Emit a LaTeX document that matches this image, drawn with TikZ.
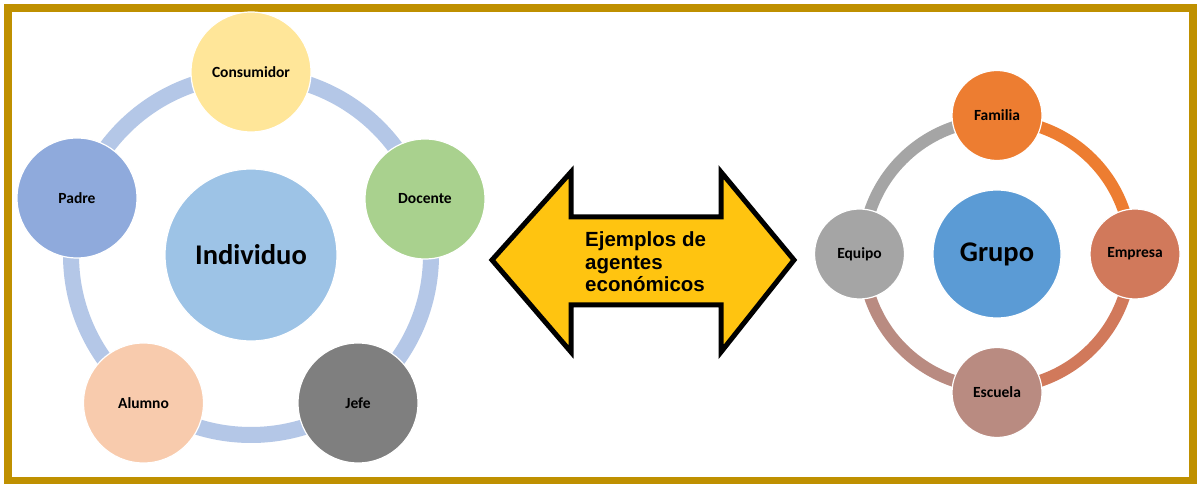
\documentclass[tikz,border=0pt]{standalone}
\usepackage{fontspec}
\setmainfont{Carlito}
\newfontfamily\arrowfont{Liberation Sans}
\definecolor{borderc}{HTML}{BF9000}
\definecolor{ringblue}{HTML}{B4C7E7}
\definecolor{indc}{HTML}{9DC3E6}
\definecolor{consc}{HTML}{FFE699}
\definecolor{docc}{HTML}{A9D18E}
\definecolor{jefec}{HTML}{7F7F7F}
\definecolor{alumc}{HTML}{F8CBAD}
\definecolor{padrec}{HTML}{8FAADC}
\definecolor{famc}{HTML}{ED7D31}
\definecolor{empc}{HTML}{D1795B}
\definecolor{escc}{HTML}{B98B81}
\definecolor{equc}{HTML}{A5A5A5}
\definecolor{grpc}{HTML}{5B9BD5}
\definecolor{arrowc}{HTML}{FFC410}
\tikzset{
  bubble/.style={circle, draw=white, line width=1.2pt, inner sep=0pt,
    font=\fontsize{15.5}{18}\selectfont\bfseries, text=black},
  bigbubble/.style={circle, draw=white, line width=1.2pt, inner sep=0pt,
    font=\fontsize{28.5}{32}\selectfont\bfseries, text=black},
  ringseg/.style={line width=12pt},
}
\begin{document}
\begin{tikzpicture}[x=1pt,y=1pt]
\useasboundingbox (0,0) rectangle (1198,484);
\fill[white] (0,0) rectangle (1198,484);
\draw[borderc, line width=8pt] (8,3) rectangle (1192.5,476);
% left group
\node[bigbubble, fill=indc, minimum size=172pt] (ind) at (251,229) {Individuo};
\draw[ringblue, line width=16pt] (ind.center) circle[radius=180];
\node[bubble, fill=consc, minimum size=120pt] (cons) at (251,412) {Consumidor};
\node[bubble, fill=docc, minimum size=120pt] (doc) at (425,285) {Docente};
\node[bubble, fill=jefec, minimum size=120pt] (jefe) at (358,81) {Jefe};
\node[bubble, fill=alumc, minimum size=120pt] (alum) at (143.5,81) {Alumno};
\node[bubble, fill=padrec, minimum size=120pt] (padre) at (77,286) {Padre};
% arrow
\filldraw[fill=arrowc, draw=black, line width=5pt, line join=miter]
  (492,224) -- (571,312) -- (571,267) -- (721,267) -- (721,312) -- (794,224)
  -- (721,132) -- (721,179) -- (571,179) -- (571,132) -- cycle;
\node[anchor=west, align=left, inner sep=0pt,
  font=\arrowfont\fontsize{20.5}{22.5}\selectfont\bfseries] (lbl) at (585,222)
  {Ejemplos de\\agentes\\económicos};
% right group
\node[bigbubble, fill=grpc, minimum size=128pt] (grp) at (997,230) {Grupo};
\draw[ringseg, famc] (grp.center) ++(90:134) arc[start angle=90, end angle=0, radius=134];
\draw[ringseg, empc] (grp.center) ++(0:134) arc[start angle=0, end angle=-90, radius=134];
\draw[ringseg, escc] (grp.center) ++(-90:134) arc[start angle=-90, end angle=-180, radius=134];
\draw[ringseg, equc] (grp.center) ++(180:134) arc[start angle=180, end angle=90, radius=134];
\node[bubble, fill=famc, minimum size=90pt] (fam) at (997,368.5) {Familia};
\node[bubble, fill=empc, minimum size=90pt] (emp) at (1135,230) {Empresa};
\node[bubble, fill=escc, minimum size=90pt] (esc) at (997,91.5) {Escuela};
\node[bubble, fill=equc, minimum size=90pt] (equ) at (859.5,230) {Equipo};
\end{tikzpicture}
\end{document}
